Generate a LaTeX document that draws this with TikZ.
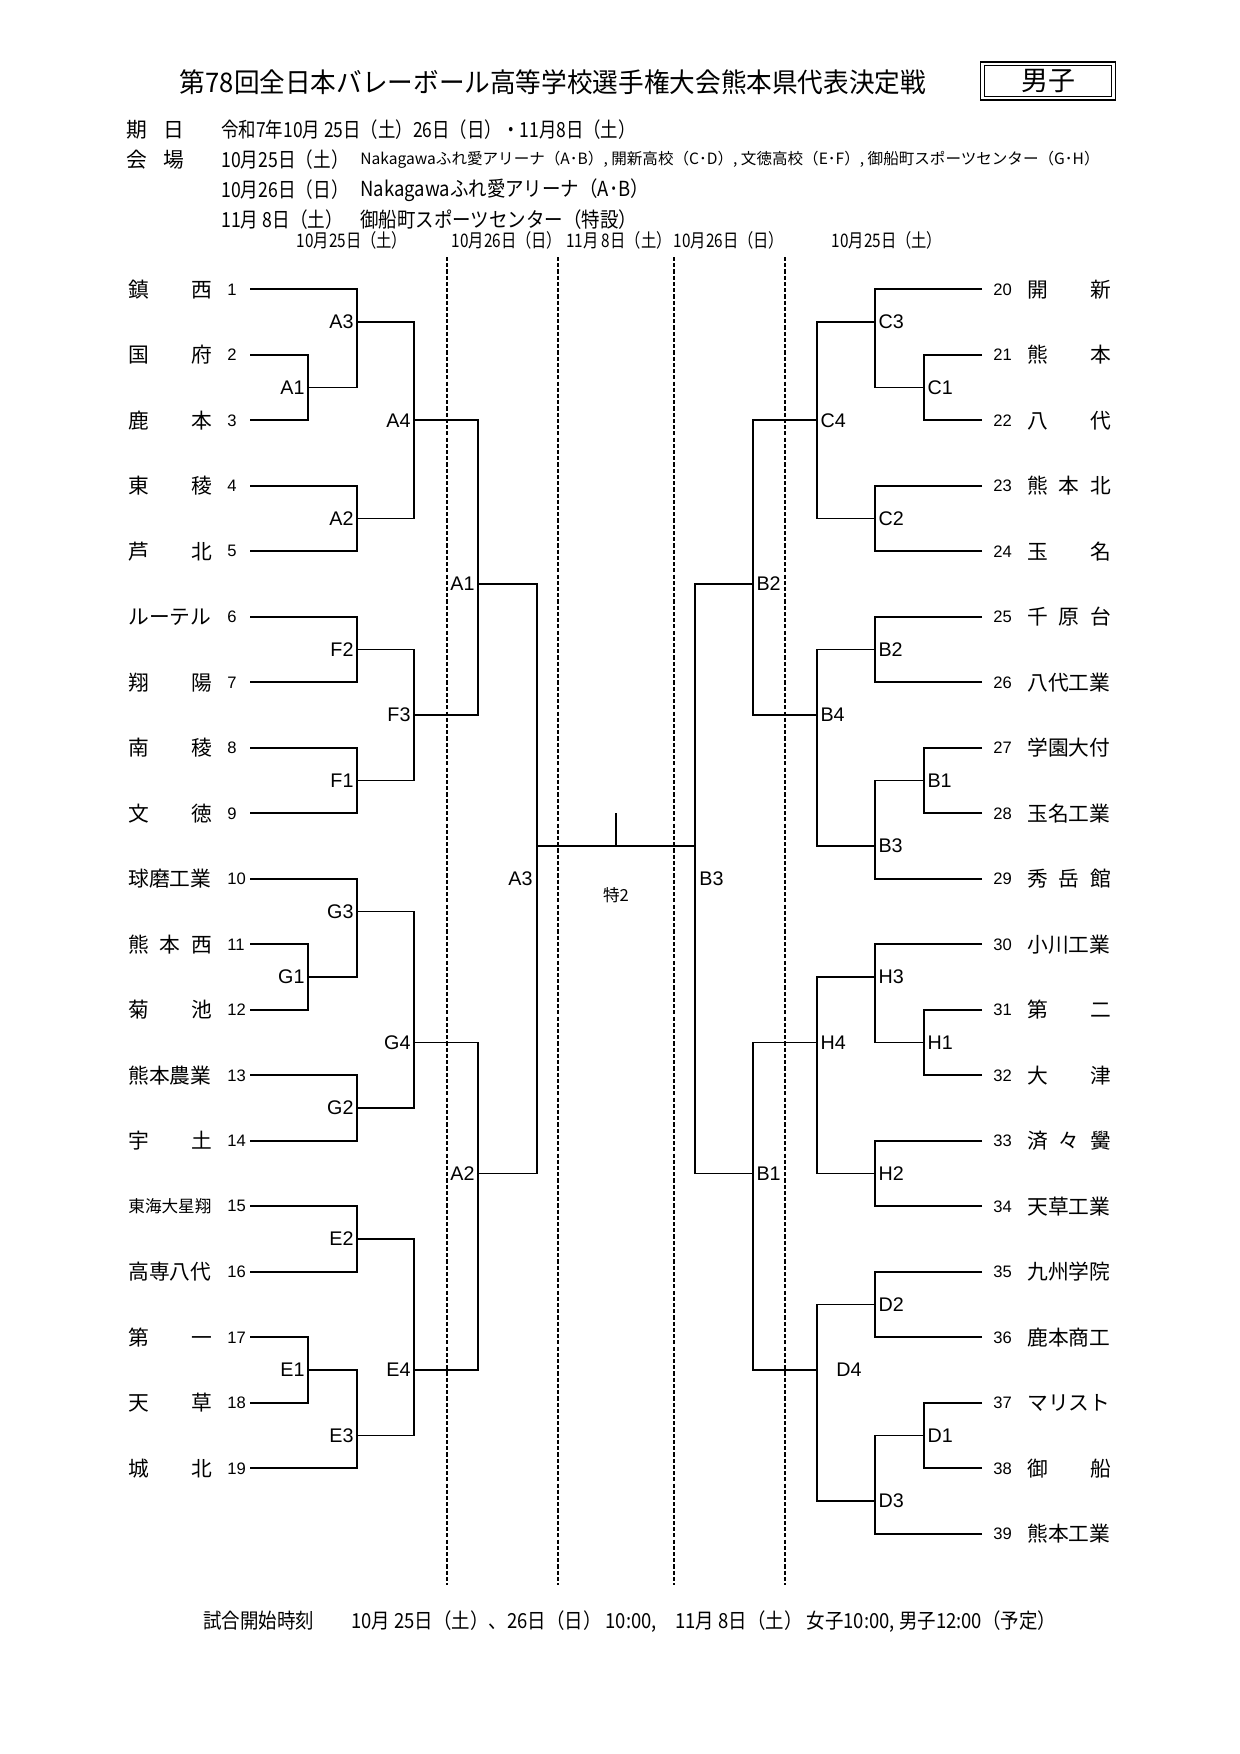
\documentclass[tikz,border=0pt]{standalone}
\usepackage{fontspec}
\usepackage{graphicx}
\setmainfont{Liberation Sans}
\newfontfamily\jp{Noto Sans CJK JP}
\newcommand{\ry}[1]{289.3+32.75*(#1)}
\newcommand{\tm}[1]{\makebox[40.3pt][s]{#1}}
\newcommand{\cnd}[2]{\scalebox{#1}[1]{#2}}

\begin{document}
\begin{tikzpicture}[x=0.169355mm,y=-0.169355mm,label distance=1.5pt,
	br/.style={line width=0.8pt},
	day/.style={dash pattern=on 2pt off 1pt,line width=0.5pt},
	tmname/.style={anchor=west,inner sep=0,font=\jp\fontsize{10}{10}\selectfont},
	tmnum/.style={anchor=west,inner sep=0,font=\fontsize{8}{8}\selectfont},
	lab/.style={inner sep=0,font=\fontsize{9.5}{9.5}\selectfont},
	hd/.style={anchor=west,inner sep=0,font=\jp\fontsize{10}{10}\selectfont},
	dt/.style={inner sep=0,font=\jp\fontsize{9}{9}\selectfont}]

	\useasboundingbox (0,0) rectangle (1240,1754);

	\node[font=\jp\fontsize{13}{13}\selectfont] (title) at (553,82) {\cnd{0.95}{第78回全日本バレーボール高等学校選手権大会熊本県代表決定戦}};
	\node[draw,double,double distance=1.2pt,line width=0.6pt,minimum width=63pt,minimum height=16.5pt,inner sep=0,font=\jp\fontsize{13}{13}\selectfont] (sex) at (1048,81) {男子};

	\node[hd] (r1a) at (126,130) {\makebox[27.9pt][s]{期 日}};
	\node[hd] (r1b) at (221,130) {\cnd{0.84}{令和7年10月 25日（土）26日（日）・11月8日（土）}};
	\node[hd] (r2a) at (126,160) {\makebox[27.9pt][s]{会 場}};
	\node[hd] (r2b) at (221,160) {\cnd{0.85}{10月25日（土）}};
	\node[hd,font=\jp\fontsize{7.5}{7.5}\selectfont] (r2c) at (360,160) {Nakagawaふれ愛アリーナ（A･B）, 開新高校（C･D）, 文徳高校（E･F）, 御船町スポーツセンター（G･H）};
	\node[hd] (r3b) at (221,190) {\cnd{0.85}{10月26日（日）}};
	\node[hd] (r3c) at (360,190) {\cnd{0.89}{Nakagawaふれ愛アリーナ（A･B）}};
	\node[hd] (r4b) at (221,220) {\cnd{0.85}{11月 8日（土）}};
	\node[hd] (r4c) at (360,220) {\cnd{0.89}{御船町スポーツセンター（特設）}};

	\foreach \x/\d [count=\i] in {352/{10月25日（土）},507/{10月26日（日）},619/{11月 8日（土）},729/{10月26日（日）},887/{10月25日（土）}}
		\node[dt] (dt\i) at (\x,240) {\cnd{0.82}{\d}};
	\foreach \x in {447,558,674,785}
		\draw[day] (\x,257) -- (\x,1585);

	% left half
	\foreach \num/\tn [count=\rw from 0] in {1/{鎮 西},2/{国 府},3/{鹿 本},4/{東 稜},5/{芦 北},6/{ルーテル},7/{翔 陽},8/{南 稜},9/{文 徳},10/{球磨工業},11/{熊 本 西},12/{菊 池},13/{熊本農業},14/{宇 土},15/{\fontsize{8}{8}\selectfont 東海大星翔},16/{高専八代},17/{第 一},18/{天 草},19/{城 北}}{
		\node[tmname] (n\num) at (128,{\ry{2*\rw}}) {\tm{\tn}};
		\node[tmnum] (m\num) at (227,{\ry{2*\rw}}) {\num};
		\coordinate (t\num) at (250,{\ry{2*\rw}});
	}
	\foreach \mt/\x/\k/\lb in {a1/308/3/A1,a3/357/1/A3,a2/357/7/A2,a4/414/4/A4,f2/357/11/F2,f1/357/15/F1,f3/414/13/F3,g1/308/21/G1,g3/357/19/G3,g2/357/25/G2,g4/414/23/G4,e2/357/29/E2,e1/308/33/E1,e3/357/35/E3,e4/414/33/E4,ax1/478/9/A1,ax2/478/27/A2}
		\coordinate[label={[lab]left:\lb}] (\mt) at (\x,{\ry{\k}});

	% right half
	\foreach \num/\tn [count=\rw from 0] in {20/{開 新},21/{熊 本},22/{八 代},23/{熊 本 北},24/{玉 名},25/{千 原 台},26/{八代工業},27/{学園大付},28/{玉名工業},29/{秀 岳 館},30/{小川工業},31/{第 二},32/{大 津},33/{済 々 黌},34/{天草工業},35/{九州学院},36/{鹿本商工},37/{マリスト},38/{御 船},39/{熊本工業}}{
		\coordinate (t\num) at (982,{\ry{2*\rw}});
		\node[tmnum] (m\num) at (993,{\ry{2*\rw}}) {\num};
		\node[tmname] (n\num) at (1027,{\ry{2*\rw}}) {\tm{\tn}};
	}
	\foreach \mt/\x/\k/\lb in {c1/924/3/C1,c3/875/1/C3,c2/875/7/C2,c4/817/4/C4,b2/875/11/B2,b1/924/15/B1,b3/875/17/B3,b4/817/13/B4,h1/924/23/H1,h3/875/21/H3,h2/875/27/H2,h4/817/23/H4,d2/875/31/D2,d1/924/35/D1,d3/875/37/D3,bx2/753/9/B2,bx1/753/27/B1}
		\coordinate[label={[lab]right:\lb}] (\mt) at (\x,{\ry{\k}});
	\coordinate (d4) at (817,{\ry{33}});
	\node[lab,anchor=west] (d4l) at (836,{\ry{33}}) {D4};

	% final
	\coordinate (ax3) at (537,{\ry{17}});
	\coordinate (bx3) at (695,{\ry{17}});
	\node[lab,anchor=east] (ax3l) at (533,{\ry{18}}) {A3};
	\node[lab,anchor=west] (bx3l) at (699,{\ry{18}}) {B3};
	\coordinate (fin) at (616,{\ry{17}});
	\coordinate (fint) at (616,813);
	\node[inner sep=0,font=\jp\fontsize{8}{8}\selectfont] (sp) at (616,895) {特2};

	\foreach \a/\b in {t1/a3,t2/a1,t3/a1,a1/a3,t4/a2,t5/a2,a3/a4,a2/a4,t6/f2,t7/f2,t8/f1,t9/f1,f2/f3,f1/f3,a4/ax1,f3/ax1,t10/g3,t11/g1,t12/g1,g1/g3,t13/g2,t14/g2,g3/g4,g2/g4,t15/e2,t16/e2,t17/e1,t18/e1,e1/e3,t19/e3,e2/e4,e3/e4,g4/ax2,e4/ax2,ax1/ax3,ax2/ax3,
		t20/c3,t21/c1,t22/c1,c1/c3,t23/c2,t24/c2,c3/c4,c2/c4,t25/b2,t26/b2,t27/b1,t28/b1,b1/b3,t29/b3,b2/b4,b3/b4,c4/bx2,b4/bx2,t30/h3,t31/h1,t32/h1,h1/h3,t33/h2,t34/h2,h3/h4,h2/h4,t35/d2,t36/d2,t37/d1,t38/d1,d1/d3,t39/d3,d2/d4,d3/d4,h4/bx1,d4/bx1,bx2/bx3,bx1/bx3}
		\draw[br] (\a) -| (\b);
	\draw[br] (ax3) -- (bx3);
	\draw[br] (fin) -- (fint);

	\node[hd] (foot) at (203,1622) {\cnd{0.89}{試合開始時刻　　10月 25日（土）、26日（日） 10:00,　11月 8日（土） 女子10:00, 男子12:00（予定）}};
\end{tikzpicture}
\end{document}
